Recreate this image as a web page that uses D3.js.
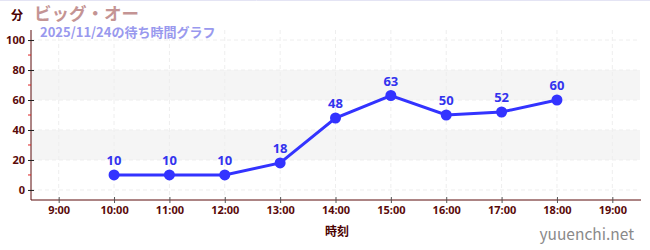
<!DOCTYPE html>
<html>
<head>
<meta charset="utf-8">
<script src="https://cdn.jsdelivr.net/npm/d3@7"></script>
<style>
  body { margin: 0; background: #fff; }
  text { font-family: "Noto Sans CJK JP", "Noto Sans", sans-serif; }
</style>
</head>
<body>
<div class="displayArea"></div>
<script>
const width = 650, height = 250;

var hours = [10, 11, 12, 13, 14, 15, 16, 17, 18],
    waits = [10, 10, 10, 18, 48, 63, 50, 52, 60]; // wait minutes

var xTicks = [9, 10, 11, 12, 13, 14, 15, 16, 17, 18, 19];
var yTicks = [0, 20, 40, 60, 80, 100];
var yMinor = [10, 30, 50, 70, 90];
var bands = [[20, 40], [60, 80]];

var xScale = d3.scaleLinear().domain([8.5, 19.5]).range([31, 640]);
var yScale = d3.scaleLinear().domain([-6.7, 106.7]).range([200, 30]);

var svg = d3.select(".displayArea").append("svg")
    .attr("width", width)
    .attr("height", height);

// faint top border
svg.append("line").attr("x1", 0).attr("x2", width).attr("y1", 0.5).attr("y2", 0.5)
    .attr("stroke", "#e4e4f4");

// grey bands
svg.selectAll(".band").data(bands).enter().append("rect")
    .attr("x", 31).attr("width", 609)
    .attr("y", d => yScale(d[1]))
    .attr("height", d => yScale(d[0]) - yScale(d[1]))
    .attr("fill", "#f5f5f5");

// grid lines
svg.selectAll(".hgrid").data(yTicks).enter().append("line")
    .attr("x1", 31).attr("x2", 640)
    .attr("y1", d => yScale(d)).attr("y2", d => yScale(d))
    .attr("stroke", "#eeeeee").attr("stroke-dasharray", "4,3");
svg.selectAll(".vgrid").data(xTicks).enter().append("line")
    .attr("x1", d => xScale(d)).attr("x2", d => xScale(d))
    .attr("y1", 30).attr("y2", 200)
    .attr("stroke", "#eeeeee").attr("stroke-dasharray", "4,3");

var axisColor = "#5a0a0a";

var xAxis = d3.axisBottom(xScale)
    .tickValues(xTicks)
    .tickFormat(d => d + ":00")
    .tickSize(3)
    .tickPadding(3);
var gx = svg.append("g").attr("transform", "translate(0,200)").call(xAxis);
gx.select(".domain").attr("stroke", axisColor).attr("d", "M31,0H641");
gx.selectAll(".tick line").attr("stroke", "#555").attr("y1", -3);
gx.selectAll(".tick text").attr("fill", axisColor)
    .style("font-size", "11px").style("font-weight", "bold")
    .style("font-family", "'Noto Sans', sans-serif");

var yAxis = d3.axisLeft(yScale)
    .tickValues(yTicks)
    .tickSize(3)
    .tickPadding(3);
var gy = svg.append("g").attr("transform", "translate(31,0)").call(yAxis);
gy.select(".domain").attr("stroke", axisColor).attr("d", "M0,30V200");
gy.selectAll(".tick line").attr("stroke", "#222").attr("x2", 3).attr("x1", -3);
gy.selectAll(".tick text").attr("fill", axisColor)
    .style("font-size", "11px").style("font-weight", "bold")
    .style("font-family", "'Noto Sans', sans-serif");

// minor ticks
svg.selectAll(".minor").data(yMinor).enter().append("line")
    .attr("x1", 28).attr("x2", 31)
    .attr("y1", d => yScale(d)).attr("y2", d => yScale(d))
    .attr("stroke", "#dd2222");

// line and points
var line = d3.line()
    .x((d, i) => xScale(hours[i]))
    .y(d => yScale(d));

svg.append("path").datum(waits)
    .attr("d", line)
    .attr("fill", "none")
    .attr("stroke", "#3333ff")
    .attr("stroke-width", 3);

svg.selectAll(".pt").data(waits).enter().append("circle")
    .attr("cx", (d, i) => xScale(hours[i]))
    .attr("cy", d => yScale(d))
    .attr("r", 5.5)
    .attr("fill", "#3333ff");

svg.selectAll(".lbl").data(waits).enter().append("text")
    .attr("x", (d, i) => xScale(hours[i]))
    .attr("y", d => yScale(d) - 10)
    .attr("text-anchor", "middle")
    .attr("fill", "#3333ee")
    .style("font-size", "13px").style("font-weight", "bold")
    .style("font-family", "'Noto Sans', sans-serif")
    .text(d => d);

// titles
svg.append("text").attr("x", 11).attr("y", 20)
    .attr("fill", "#4a0000").style("font-size", "12px").style("font-weight", "bold")
    .text("分");
svg.append("text").attr("x", 34).attr("y", 20)
    .attr("fill", "#c49494").style("font-size", "17.5px").style("font-weight", "bold")
    .text("ビッグ・オー");
svg.append("text").attr("x", 40).attr("y", 37)
    .attr("fill", "#9999ee").style("font-size", "13px").style("font-weight", "bold")
    .text("2025/11/24の待ち時間グラフ");

svg.append("text").attr("x", 337).attr("y", 236)
    .attr("text-anchor", "middle")
    .attr("fill", "#4a0000").style("font-size", "12px").style("font-weight", "bold")
    .text("時刻");

svg.append("text").attr("x", 634).attr("y", 240)
    .attr("text-anchor", "end")
    .attr("fill", "#8a8a8a").style("font-size", "15.5px")
    .text("yuuenchi.net");
</script>
</body>
</html>
